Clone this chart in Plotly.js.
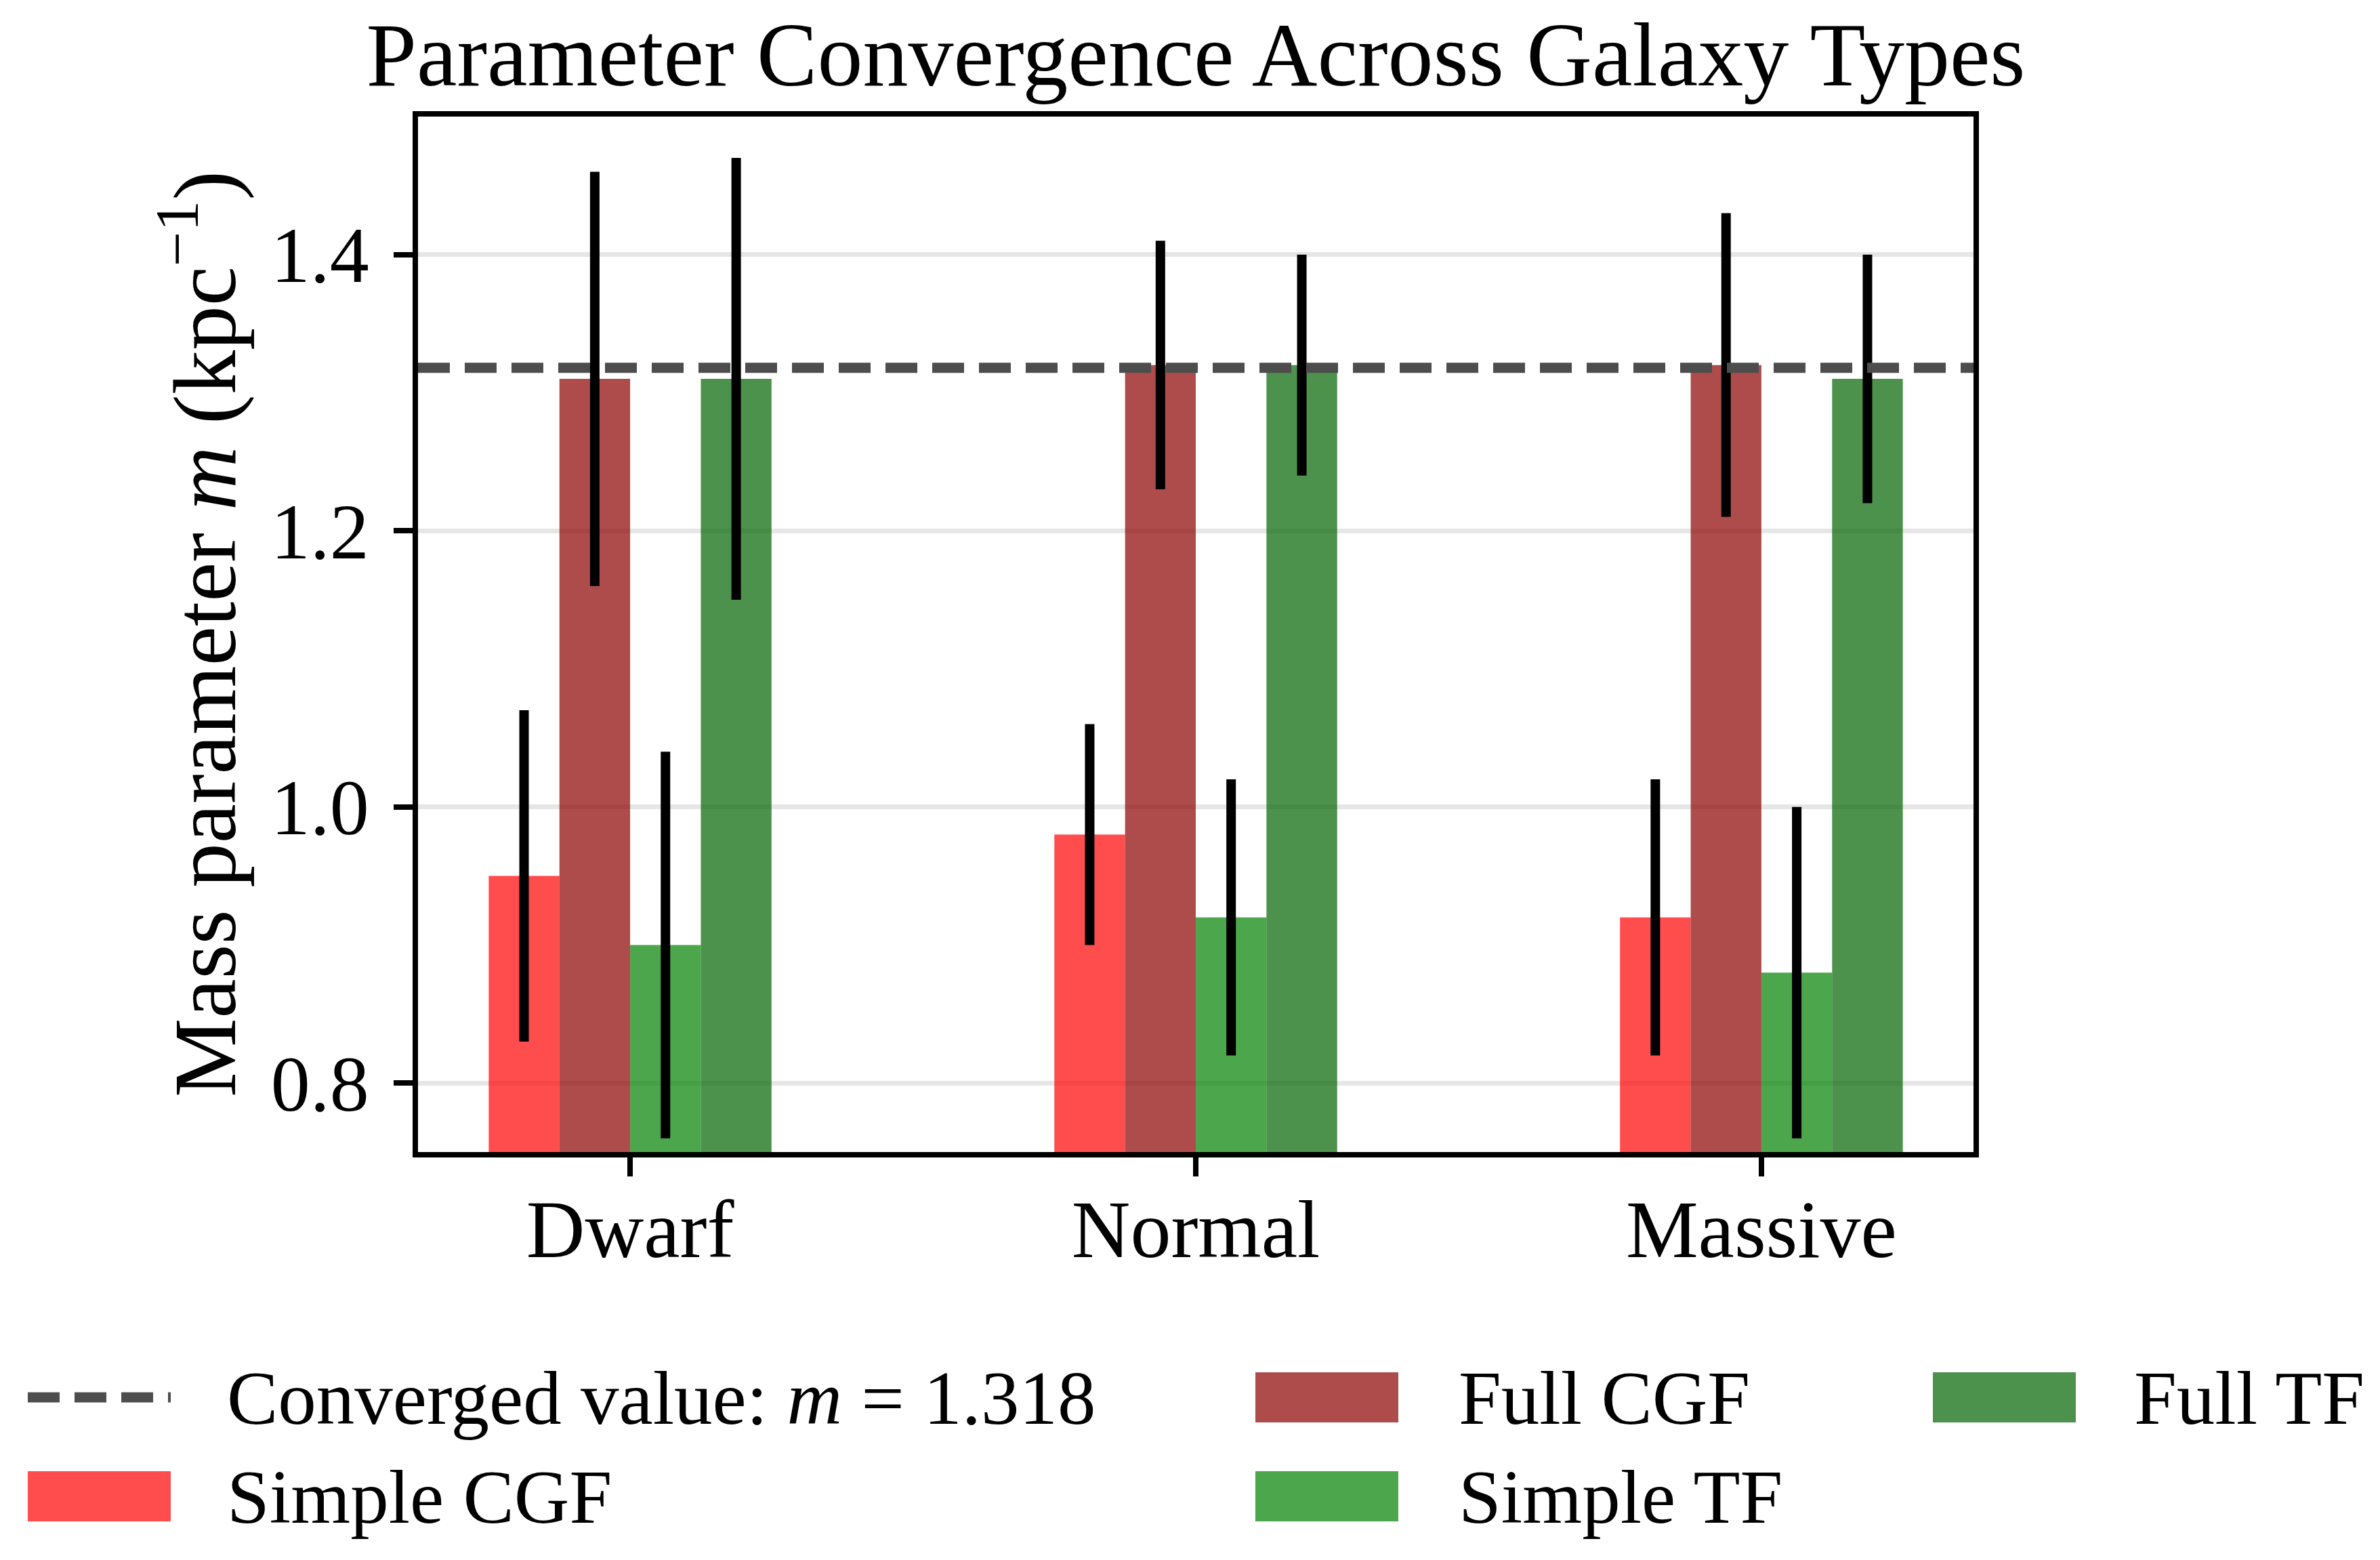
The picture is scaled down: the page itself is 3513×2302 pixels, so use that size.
<!DOCTYPE html>
<html>
<head>
<meta charset="utf-8">
<script src="https://cdn.plot.ly/plotly-3.0.1.min.js"></script>
<style>
  body { margin: 0; background: #ffffff; }
</style>
</head>
<body>
<div id="chart" style="width:3513px;height:2302px;"></div>
<script>
// data
const galaxyTypes = ["Dwarf", "Normal", "Massive"];
const seriesNames = ["Simple CGF", "Full CGF", "Simple TF", "Full TF"];
const simpleCGF = [0.95, 0.98, 0.92];
const simpleCGFErr = [0.12, 0.08, 0.10];
const fullCGF = [1.31, 1.32, 1.32];
const fullCGFErr = [0.15, 0.09, 0.11];
const simpleTF = [0.90, 0.92, 0.88];
const simpleTFErr = [0.14, 0.10, 0.12];
const fullTF = [1.31, 1.32, 1.31];
const fullTFErr = [0.16, 0.08, 0.09];
const convergedM = 1.318;
const yTicks = [0.8, 1.0, 1.2, 1.4];

const seriesValues = [simpleCGF, fullCGF, simpleTF, fullTF];
const seriesErrors = [simpleCGFErr, fullCGFErr, simpleTFErr, fullTFErr];
// red, darkred, green, darkgreen at alpha 0.7
const seriesColors = [
  "rgba(255,0,0,0.7)",
  "rgba(139,0,0,0.7)",
  "rgba(0,128,0,0.7)",
  "rgba(0,100,0,0.7)",
];

// page / plot box in pixels
const W = 3513, H = 2302;
const L = 617, R = 2913, T = 172, B = 1700;
const px = (x) => (x - L) / (R - L);
const py = (y) => (B - y) / (B - T);

const serif = "Liberation Serif, Times New Roman, serif";
const dashColor = "#4d4d4d";

const traces = seriesNames.map((name, i) => ({
  type: "bar",
  name: name,
  x: galaxyTypes,
  y: seriesValues[i],
  marker: { color: seriesColors[i], line: { width: 0 } },
  error_y: {
    type: "data",
    array: seriesErrors[i],
    visible: true,
    color: "#000000",
    thickness: 14,
    width: 0,
  },
  showlegend: false,
  hoverinfo: "skip",
}));

// legend drawn by hand so the handles keep matplotlib's wide shape
const legendItems = [
  { kind: "line", label: "Converged value: <i>m</i> = " + convergedM, hx: 41, tx: 333, cy: 2062 },
  { kind: "bar", color: seriesColors[0], label: seriesNames[0], hx: 41, tx: 333, cy: 2208 },
  { kind: "bar", color: seriesColors[1], label: seriesNames[1], hx: 1853, tx: 2151, cy: 2062 },
  { kind: "bar", color: seriesColors[2], label: seriesNames[2], hx: 1853, tx: 2151, cy: 2208 },
  { kind: "bar", color: seriesColors[3], label: seriesNames[3], hx: 2853, tx: 3148, cy: 2062 },
];
const handleW = 211, handleH = 74;

const shapes = [
  {
    type: "line",
    xref: "paper", yref: "y",
    x0: 0, x1: 1, y0: convergedM, y1: convergedM,
    line: { color: dashColor, width: 15, dash: "47px,22px" },
    layer: "above",
  },
];
const annotations = [
  {
    xref: "paper", yref: "paper",
    x: px(293), y: 0.5,
    xanchor: "center", yanchor: "middle",
    textangle: -90,
    text: "Mass parameter <i>m</i> (kpc<sup>−1</sup>)",
    showarrow: false,
    font: { family: serif, size: 131, color: "#000000" },
  },
];

legendItems.forEach((it) => {
  if (it.kind === "line") {
    shapes.push({
      type: "line",
      xref: "paper", yref: "paper",
      x0: px(it.hx), x1: px(it.hx + handleW), y0: py(it.cy), y1: py(it.cy),
      line: { color: dashColor, width: 15, dash: "47px,22px" },
    });
  } else {
    shapes.push({
      type: "rect",
      xref: "paper", yref: "paper",
      x0: px(it.hx), x1: px(it.hx + handleW),
      y0: py(it.cy + handleH / 2), y1: py(it.cy - handleH / 2),
      fillcolor: it.color,
      line: { width: 0 },
    });
  }
  annotations.push({
    xref: "paper", yref: "paper",
    x: px(it.tx), y: py(it.cy),
    xanchor: "left", yanchor: "middle",
    text: it.label,
    showarrow: false,
    font: { family: serif, size: 113, color: "#000000" },
  });
});

const layout = {
  width: W,
  height: H,
  margin: { l: L, r: W - R, t: T, b: H - B, pad: 0 },
  paper_bgcolor: "#ffffff",
  plot_bgcolor: "#ffffff",
  barmode: "group",
  bargap: 0.5,
  bargroupgap: 0,
  showlegend: false,
  font: { family: serif, color: "#000000" },
  title: {
    text: "Parameter Convergence Across Galaxy Types",
    font: { family: serif, size: 134, color: "#000000" },
    x: 0.5 * (L + R) / W,
    xanchor: "center",
    y: 1 - 79 / H,
    yanchor: "middle",
    yref: "container",
  },
  xaxis: {
    type: "category",
    range: [-0.375, 2.375],
    showline: true,
    mirror: true,
    linecolor: "#000000",
    linewidth: 8,
    ticks: "outside",
    ticklen: 28,
    tickwidth: 8,
    tickcolor: "#000000",
    showgrid: false,
    zeroline: false,
    tickfont: { family: serif, size: 120, color: "#000000" },
    ticklabelstandoff: -25,
  },
  yaxis: {
    range: [0.75, 1.5],
    tickvals: yTicks,
    tickformat: ".1f",
    showline: true,
    mirror: true,
    linecolor: "#000000",
    linewidth: 8,
    ticks: "outside",
    ticklen: 28,
    tickwidth: 8,
    tickcolor: "#000000",
    showgrid: true,
    gridcolor: "#e6e6e6",
    gridwidth: 7,
    zeroline: false,
    tickfont: { family: serif, size: 116, color: "#000000" },
    ticklabelstandoff: 13,
  },
  shapes: shapes,
  annotations: annotations,
};

const config = { responsive: false, displayModeBar: false, staticPlot: true };

Plotly.newPlot("chart", traces, layout, config);
</script>
</body>
</html>
